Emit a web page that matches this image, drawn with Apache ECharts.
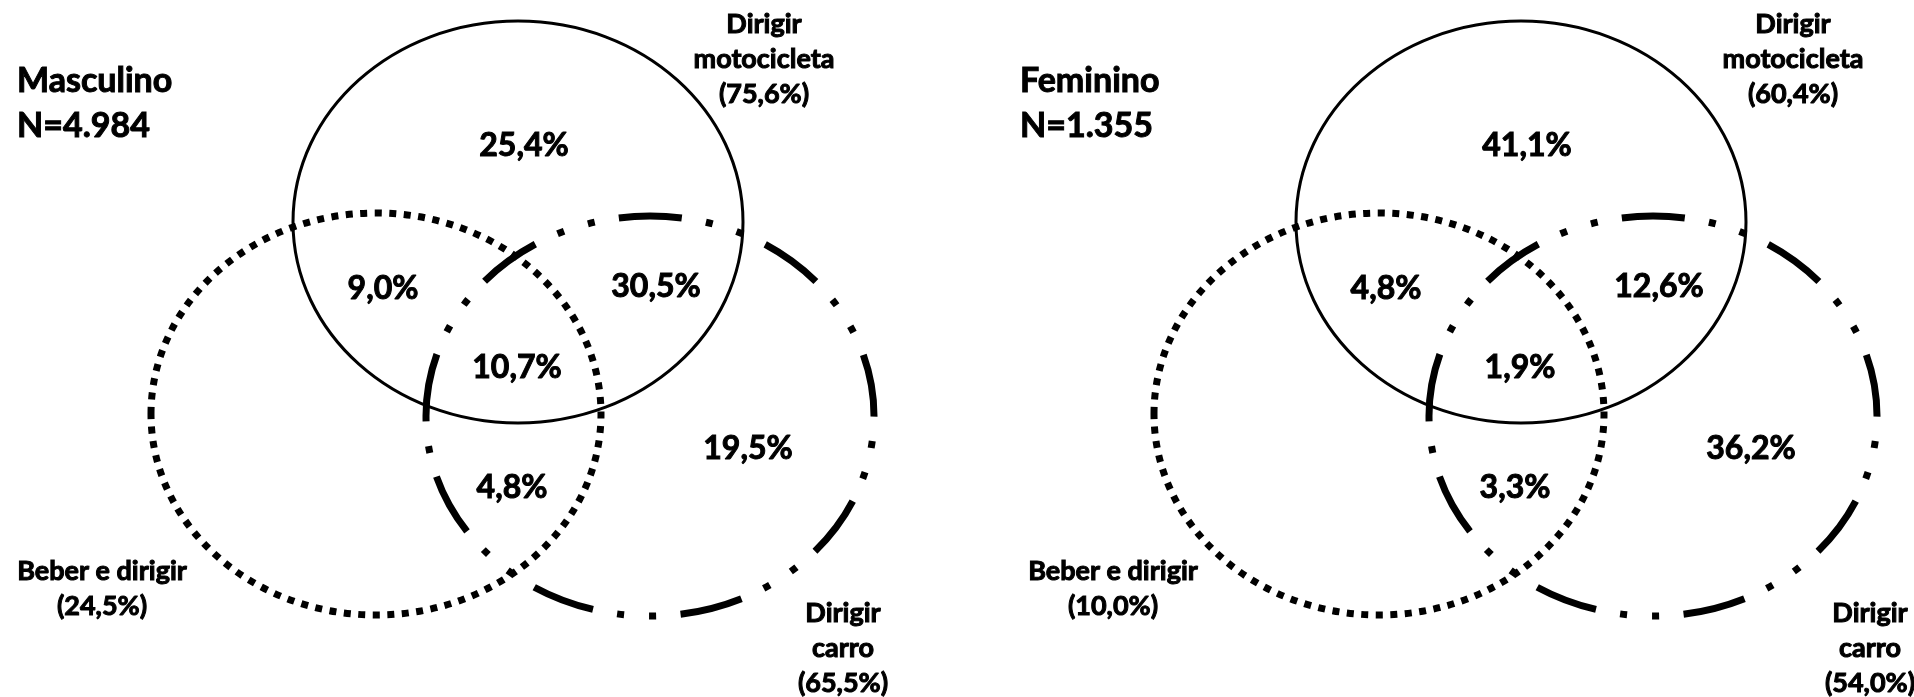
<!DOCTYPE html>
<html>
<head>
<meta charset="utf-8">
<title>Venn - comportamentos no trânsito</title>
<script src="https://cdn.jsdelivr.net/npm/echarts@6/dist/echarts.min.js"></script>
<style>
  html, body { margin: 0; padding: 0; background: #fff; }
  #main { width: 1914px; height: 697px; }
</style>
</head>
<body>
<div id="main"></div>
<script>
// painéis
var panelNames = ["Masculino", "Feminino"];
var panelN = ["4.984", "1.355"];

// conjuntos: motocicleta, beber e dirigir, carro
var setNames = ["Dirigir\nmotocicleta", "Beber e dirigir", "Dirigir\ncarro"];
var setShareM = ["75,6%", "24,5%", "65,5%"];
var setShareF = ["60,4%", "10,0%", "54,0%"];

// regiões: só moto, moto+beber, moto+carro, as três, só carro, beber+carro
var regionM = ["25,4%", "9,0%", "30,5%", "10,7%", "19,5%", "4,8%"];
var regionF = ["41,1%", "4,8%", "12,6%", "1,9%", "36,2%", "3,3%"];

// geometria das elipses (unidades do painel)
var setCx = [518, 376, 650];
var setCy = [222, 414, 416];
var setRx = [225, 225, 224];
var setRy = [201, 201, 200];

// onde ficam os textos
var regionPos = [[524, 146], [383, 289], [656, 287], [517, 368], [748, 449], [512, 488]];
var setLabelPosM = [[764, 59], [102, 589], [843, 648]];
var setLabelPosF = [[790, 59], [110, 589], [867, 648]];

var lineW = [3, 7, 7];
var lineDash = [null, [7, 7.5], [63, 24.5, 7, 25, 7, 24.5]];

var FONT = "Lato";
var chart = echarts.init(document.getElementById("main"));

function ellipseSeries(p) {
  var data = [];
  for (var i = 0; i < setCx.length; i++) {
    data.push([setCx[i], setCy[i], setRx[i], setRy[i]]);
  }
  return {
    type: "custom",
    xAxisIndex: p,
    yAxisIndex: p,
    silent: true,
    data: data,
    renderItem: function (params, api) {
      var i = params.dataIndex;
      var c = api.coord([api.value(0), api.value(1)]);
      var s = api.size([api.value(2), api.value(3)]);
      return {
        type: "ellipse",
        shape: { cx: c[0], cy: c[1], rx: s[0], ry: s[1] },
        style: {
          fill: "none",
          stroke: "#000",
          lineWidth: lineW[i],
          lineDash: lineDash[i],
          lineCap: "butt"
        }
      };
    }
  };
}

function textSeries(p, pos, texts, size, lh) {
  var data = pos.map(function (d) { return d.slice(); });
  return {
    type: "custom",
    xAxisIndex: p,
    yAxisIndex: p,
    silent: true,
    data: data,
    renderItem: function (params, api) {
      var c = api.coord([api.value(0), api.value(1)]);
      return {
        type: "text",
        x: c[0],
        y: c[1],
        style: {
          text: texts[params.dataIndex],
          fill: "#000",
          stroke: "#000",
          lineWidth: 1,
          fontFamily: FONT,
          fontWeight: "bold",
          fontSize: size,
          lineHeight: lh,
          align: "center",
          verticalAlign: "middle"
        }
      };
    }
  };
}

var setTextM = setNames.map(function (n, i) { return n + "\n(" + setShareM[i] + ")"; });
var setTextF = setNames.map(function (n, i) { return n + "\n(" + setShareF[i] + ")"; });

var panelLeft = [0, 1003];
var option = {
  animation: false,
  backgroundColor: "#fff",
  title: panelNames.map(function (name, p) {
    return {
      text: name + "\nN=" + panelN[p],
      left: panelLeft[p] + 17,
      top: 59,
      padding: 0,
      textStyle: {
        fontFamily: FONT,
        fontWeight: "bold",
        fontSize: 34,
        lineHeight: 45,
        color: "#000",
        textBorderColor: "#000",
        textBorderWidth: 1
      }
    };
  }),
  grid: panelLeft.map(function (l) {
    return { left: l, top: 0, width: 900, height: 697 };
  }),
  xAxis: panelLeft.map(function (l, p) {
    return { type: "value", gridIndex: p, min: 0, max: 900, show: false };
  }),
  yAxis: panelLeft.map(function (l, p) {
    return { type: "value", gridIndex: p, min: 0, max: 697, inverse: true, show: false };
  }),
  series: [
    ellipseSeries(0),
    textSeries(0, regionPos, regionM, 32, 40),
    textSeries(0, setLabelPosM, setTextM, 27, 35),
    ellipseSeries(1),
    textSeries(1, regionPos, regionF, 32, 40),
    textSeries(1, setLabelPosF, setTextF, 27, 35)
  ]
};

chart.setOption(option);
</script>
</body>
</html>
